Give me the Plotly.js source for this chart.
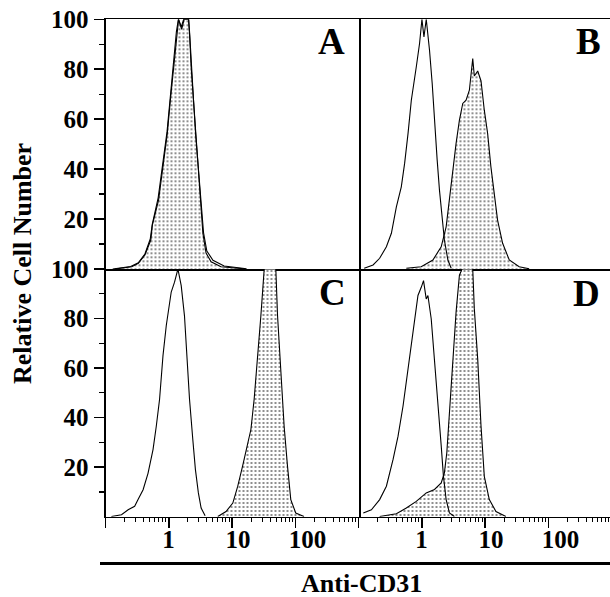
<!DOCTYPE html>
<html>
<head>
<meta charset="utf-8">
<script src="https://cdn.plot.ly/plotly-3.0.1.min.js"></script>
<style>html,body{margin:0;padding:0;background:#fff;}#chart{width:610px;height:597px;}</style>
</head>
<body>
<div id="chart"></div>
<script>
// ---- Data (fluorescence intensity, relative cell number) ----
// Panel A
var A_ctrl_x = [0.13,0.25,0.33,0.42,0.51,0.55,0.68,0.80,0.94,1.05,1.18,1.32,1.42,1.58,1.72,2.07,2.15,2.28,2.48,2.67,2.92,3.2,3.55,4.0,5.0,7.5,17];
var A_ctrl_y = [0,1.0,2.5,6.0,12.0,18.0,28.5,41.5,55,68,81.5,95,100,97,100,100,93.5,80,66.5,53.5,40,27,14.5,7.2,3.5,1.2,0.1];
var A_cd31_x = [0.14,0.26,0.33,0.42,0.52,0.55,0.69,0.81,0.95,1.06,1.19,1.33,1.43,1.6,1.75,2.05,2.13,2.26,2.46,2.64,2.88,3.13,3.46,3.89,4.67,6.7,15.5];
var A_cd31_y = [0,0.9,2.3,5.6,11.6,17.6,27.6,40.9,54.4,67.6,80.9,94.3,100,96,100,100,94.3,80.9,67.6,54.4,40.9,27.6,14.4,6.4,2.9,0.9,0.1];
// Panel B
var B_ctrl_x = [0.123,0.17,0.216,0.276,0.331,0.397,0.475,0.536,0.607,0.684,0.819,0.923,1.007,1.083,1.178,1.327,1.463,1.591,1.754,1.906,2.10,2.28,2.59,2.92];
var B_ctrl_y = [0.3,1.6,4.3,8.9,14.3,24.9,32.9,42.3,54.3,67.6,80.9,90.3,100,92.9,100,87.6,74.3,58.3,43.6,31.6,20.9,11.6,3.6,0.3];
var B_cd31_x = [0.57,0.98,1.5,2.03,2.43,2.74,3.1,3.49,3.94,4.45,5.02,5.66,6.4,6.78,7.67,8.65,9.75,11.0,12.4,14.0,15.8,19.0,24.2,34.7,49.9];
var B_cd31_y = [0.3,0.9,3.6,8.9,16.9,27.6,40.9,50.3,59.6,66.3,67.6,71.6,84.3,77.3,79.3,75.3,63.6,54.3,40.9,30.3,19.6,10.3,3.6,0.9,0.1];
// Panel C
var C_ctrl_x = [0.124,0.179,0.228,0.289,0.327,0.393,0.470,0.564,0.635,0.716,0.811,0.914,1.094,1.234,1.396,1.574,1.773,1.955,2.13,2.40,2.64,2.94,3.25,3.76];
var C_ctrl_y = [0.1,0.8,2.8,4.2,6.9,10.9,17.5,27.1,36.5,47.4,65.1,77.2,90.7,94.7,100,93.3,81.1,63.8,47.4,31.2,19.0,9.6,3.5,0.4];
var C_cd31_x = [5.96,8.05,10.3,12.3,14.7,17.7,19.9,22.4,25.4,28.6,32.3,49.3,52.5,59.1,66.7,75.4,85.0,101.8,137.6];
var C_cd31_y = [0.1,2.1,5.5,12.2,20.4,29.8,35.2,47.4,63.6,81.1,100,100,81.1,56.8,36.5,20.4,6.9,1.5,0.1];
// Panel D
var D_ctrl_x = [0.119,0.160,0.216,0.276,0.352,0.422,0.506,0.607,0.684,0.771,0.871,0.982,1.067,1.177,1.252,1.411,1.59,1.80,2.03,2.20,2.43,2.74,3.28];
var D_ctrl_y = [1.5,2.8,6.9,12.3,23.1,32.5,44.7,59.6,69.0,77.1,89.3,92.6,95.3,87.9,89.3,79.9,63.7,47.6,28.7,16.5,6.9,1.5,0.1];
var D_cd31_x = [0.216,0.397,0.570,0.819,1.177,1.59,2.03,2.28,2.49,2.74,3.10,3.49,3.94,4.34,6.40,6.78,7.67,8.65,9.75,11.7,14.9,21.4];
var D_cd31_y = [0.1,1.2,3.5,6.2,9.6,11.0,13.6,17.7,25.8,43.3,63.6,82.6,97.5,100,100,83.9,63.6,36.6,16.3,6.9,2.1,0.1];

// ---- Tick labels ----
var xTickVals = [0.1, 1, 10, 100, 1000];
var xTickText = ['', '1', '10', '100', ''];
var xMinorVals = [0.2,0.3,0.4,0.5,0.6,0.7,0.8,0.9,2,3,4,5,6,7,8,9,20,30,40,50,60,70,80,90,200,300,400,500,600,700,800,900];
var yTickVals = [20, 40, 60, 80, 100];
var yTickText = ['20', '40', '60', '80', '100'];
var yMinorVals = [10, 30, 50, 70, 90];
var panelLetters = ['A', 'B', 'C', 'D'];
var xTitle = 'Anti-CD31';
var yTitle = 'Relative Cell Number';

// ---- Styling ----
var SERIF = '"Liberation Serif", "Times New Roman", serif';
var LW = 1.5;
var pattern = {shape: '.', fgcolor: '#000', bgcolor: '#fff', size: 4, solidity: 0.13};

function filled(x, y, xa, ya) {
  return {x: x, y: y, xaxis: xa, yaxis: ya, type: 'scatter', mode: 'lines',
    line: {color: '#000', width: 1.1}, fill: 'tozeroy', fillcolor: 'rgba(0,0,0,0)',
    fillpattern: pattern, hoverinfo: 'skip'};
}
function open(x, y, xa, ya) {
  return {x: x, y: y, xaxis: xa, yaxis: ya, type: 'scatter', mode: 'lines',
    line: {color: '#000', width: 1.1}, hoverinfo: 'skip'};
}

var data = [
  filled(A_cd31_x, A_cd31_y, 'x', 'y'), open(A_ctrl_x, A_ctrl_y, 'x', 'y'),
  filled(B_cd31_x, B_cd31_y, 'x2', 'y2'), open(B_ctrl_x, B_ctrl_y, 'x2', 'y2'),
  filled(C_cd31_x, C_cd31_y, 'x3', 'y3'), open(C_ctrl_x, C_ctrl_y, 'x3', 'y3'),
  filled(D_cd31_x, D_cd31_y, 'x4', 'y4'), open(D_ctrl_x, D_ctrl_y, 'x4', 'y4')
];

var W = 610, H = 597;
var leftDom = [105.5 / W, 358.5 / W];
var rightDom = [358.5 / W, 1];
var topDom = [1 - 269 / H, 1 - 19.3 / H];
var botDom = [1 - 516.7 / H, 1 - 269 / H];
var tickFont = {family: SERIF, size: 25, color: '#000', weight: 700};

function xAxisTop(dom, anchor, rng) {
  return {domain: dom, anchor: anchor, type: 'log', range: rng, showline: true, linecolor: '#000',
    linewidth: LW, mirror: true, ticks: '', showticklabels: false, showgrid: false, zeroline: false, fixedrange: true};
}
function xAxisBot(dom, anchor, rng) {
  return {domain: dom, anchor: anchor, type: 'log', range: rng, showline: true, linecolor: '#000',
    linewidth: LW, mirror: false, ticks: 'outside', ticklen: 10, tickwidth: LW, tickcolor: '#000',
    tickmode: 'array', tickvals: xTickVals, ticktext: xTickText, ticklabelposition: 'outside right',
    ticklabelshift: -8, ticklabelstandoff: 0,
    tickfont: tickFont, showgrid: false, zeroline: false, fixedrange: true,
    minor: {tickmode: 'array', tickvals: xMinorVals, ticks: 'outside', ticklen: 4, tickwidth: 1, tickcolor: '#000', showgrid: false}};
}
function yAxisLeft(dom, anchor) {
  return {domain: dom, anchor: anchor, range: [0, 100], showline: true, linecolor: '#000', linewidth: 2,
    mirror: true, ticks: 'outside', ticklen: 10, tickwidth: LW, tickcolor: '#000',
    tickmode: 'array', tickvals: yTickVals, ticktext: yTickText, tickfont: tickFont,
    showgrid: false, zeroline: false, fixedrange: true,
    minor: {tickmode: 'array', tickvals: yMinorVals, ticks: 'outside', ticklen: 5, tickwidth: 1.2, tickcolor: '#000', showgrid: false}};
}
function yAxisRight(dom, anchor) {
  return {domain: dom, anchor: anchor, range: [0, 100], showline: false,
    ticks: '', showticklabels: false, showgrid: false, zeroline: false, fixedrange: true};
}

var rightRange = [-1, -1 + (W - 358.5) / 63.25];
var letterFont = {family: SERIF, size: 37, color: '#000', weight: 700};

var layout = {
  width: W, height: H,
  margin: {l: 0, r: 0, t: 0, b: 0, pad: 0},
  paper_bgcolor: '#fff', plot_bgcolor: 'rgba(0,0,0,0)',
  showlegend: false, hovermode: false,
  xaxis: xAxisTop(leftDom, 'y', [-1, 3]),
  yaxis: yAxisLeft(topDom, 'x'),
  xaxis2: xAxisTop(rightDom, 'y2', rightRange),
  yaxis2: yAxisRight(topDom, 'x2'),
  xaxis3: xAxisBot(leftDom, 'y3', [-1, 3]),
  yaxis3: yAxisLeft(botDom, 'x3'),
  xaxis4: xAxisBot(rightDom, 'y4', rightRange),
  yaxis4: yAxisRight(botDom, 'x4'),
  shapes: [
    {type: 'line', xref: 'paper', yref: 'paper', x0: 100 / W, x1: 1, y0: 1 - 563.5 / H, y1: 1 - 563.5 / H,
     line: {color: '#000', width: 3}}
  ],
  annotations: [
    {text: panelLetters[0], xref: 'paper', yref: 'paper', x: 347 / W, y: 1 - 41.5 / H, xanchor: 'right', yanchor: 'middle', showarrow: false, font: letterFont},
    {text: panelLetters[1], xref: 'paper', yref: 'paper', x: 603 / W, y: 1 - 41.5 / H, xanchor: 'right', yanchor: 'middle', showarrow: false, font: letterFont},
    {text: panelLetters[2], xref: 'paper', yref: 'paper', x: 348 / W, y: 1 - 292.5 / H, xanchor: 'right', yanchor: 'middle', showarrow: false, font: letterFont},
    {text: panelLetters[3], xref: 'paper', yref: 'paper', x: 602 / W, y: 1 - 293 / H, xanchor: 'right', yanchor: 'middle', showarrow: false, font: letterFont},
    {text: xTitle, xref: 'paper', yref: 'paper', x: 361 / W, y: 1 - 583.5 / H, xanchor: 'center', yanchor: 'middle', showarrow: false,
     font: {family: SERIF, size: 26, color: '#000', weight: 700}},
    {text: yTitle, xref: 'paper', yref: 'paper', x: 22 / W, y: 1 - 264 / H, xanchor: 'center', yanchor: 'middle', textangle: -90, showarrow: false,
     font: {family: SERIF, size: 26, color: '#000', weight: 700}}
  ]
};

Plotly.newPlot('chart', data, layout, {staticPlot: true, displayModeBar: false});
</script>
</body>
</html>
